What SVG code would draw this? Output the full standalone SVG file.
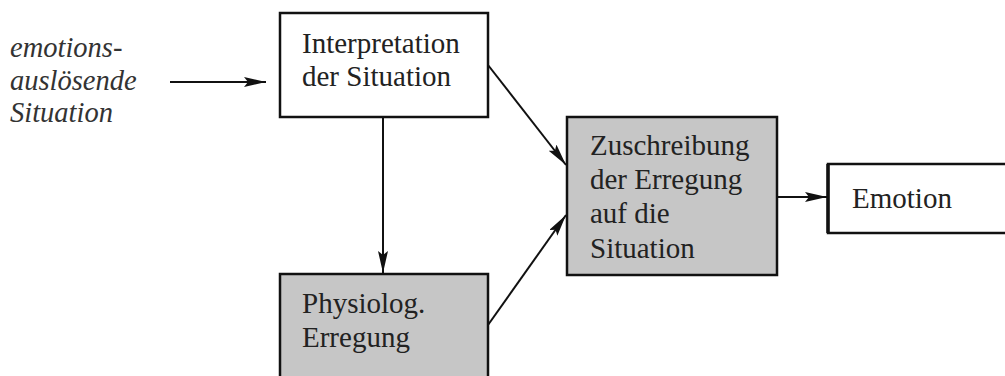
<svg xmlns="http://www.w3.org/2000/svg" width="1005" height="376" viewBox="0 0 1005 376">
<style>
.box{stroke:#111;stroke-width:2.5}
.white{fill:#fff}
.gray{fill:#c6c6c6}
.t{font-family:"Liberation Serif",serif;font-size:29px;fill:#222}
.it{font-family:"Liberation Serif",serif;font-size:28.5px;font-style:italic;fill:#333}
.c{stroke:#111;stroke-width:2;fill:none;marker-end:url(#ah)}
</style>
<defs>
<marker id="ah" viewBox="0 0 22 10" refX="22" refY="5" markerWidth="22" markerHeight="10" markerUnits="userSpaceOnUse" orient="auto">
<path d="M0,0 L22,5 L0,10 L4,5 Z" fill="#111"/>
</marker>
</defs>
<rect width="1005" height="376" fill="#fff"/>
<g id="input">
<text class="it" x="10" y="57">emotions-</text>
<text class="it" x="10" y="90">auslösende</text>
<text class="it" x="10" y="122">Situation</text>
</g>
<g id="interpretation">
<rect class="box white" x="280" y="13" width="208" height="104"/>
<text class="t" x="302" y="53">Interpretation</text>
<text class="t" x="302" y="86">der Situation</text>
</g>
<g id="physiolog">
<rect class="box gray" x="280" y="274" width="208" height="120"/>
<text class="t" x="302" y="313">Physiolog.</text>
<text class="t" x="302" y="347">Erregung</text>
</g>
<g id="zuschreibung">
<rect class="box gray" x="567" y="117" width="210" height="158"/>
<text class="t" x="590" y="155">Zuschreibung</text>
<text class="t" x="590" y="189">der Erregung</text>
<text class="t" x="590" y="223">auf die</text>
<text class="t" x="590" y="258">Situation</text>
</g>
<g id="emotion">
<rect class="box white" x="828" y="164" width="200" height="69"/>
<line x1="828" y1="164" x2="828" y2="233" stroke="#111" stroke-width="3.5"/>
<text class="t" x="852" y="208">Emotion</text>
</g>
<g id="connectors">
<line class="c" x1="170" y1="82" x2="266" y2="82"/>
<line class="c" x1="383" y1="117" x2="383" y2="273"/>
<line class="c" x1="488" y1="65" x2="566" y2="165"/>
<line class="c" x1="488" y1="325" x2="566" y2="215"/>
<line class="c" x1="777" y1="197" x2="827" y2="197"/>
</g>
</svg>
